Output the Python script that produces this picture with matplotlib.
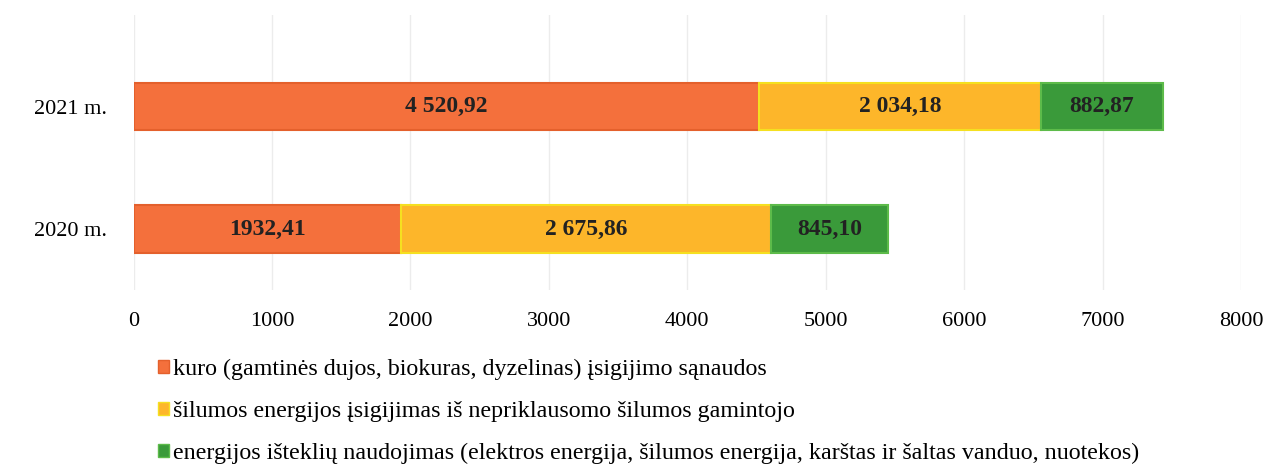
import matplotlib.pyplot as plt
from matplotlib.patches import Patch

plt.rcParams['font.family'] = ['Liberation Serif', 'DejaVu Serif']

# data
years = ['2020 m.', '2021 m.']
kuras = [1932.41, 4520.92]
silumos_pirkimas = [2675.86, 2034.18]
istekliai = [845.10, 882.87]
kuras_lbl = ['1932,41', '4 520,92']
silumos_lbl = ['2 675,86', '2 034,18']
istekliai_lbl = ['845,10', '882,87']
series_names = ['kuro (gamtinės dujos, biokuras, dyzelinas) įsigijimo sąnaudos',
                'šilumos energijos įsigijimas iš nepriklausomo šilumos gamintojo',
                'energijos išteklių naudojimas (elektros energija, šilumos energija, karštas ir šaltas vanduo, nuotekos)']
xticks = [0, 1000, 2000, 3000, 4000, 5000, 6000, 7000, 8000]

colors = ['#F4703C', '#FDB62A', '#3A9A3A']
edges = ['#E4602C', '#F5E020', '#5DBB4A']

fig = plt.figure(figsize=(12.72, 4.75), dpi=100)
# axes spans roughly y=15..290 px
ax = fig.add_axes([0.105, 0.389, 0.8706, 0.579])

ypos = [0, 1]
h = 0.39
left = [0, 0]
for vals, lbls, c, ec in zip([kuras, silumos_pirkimas, istekliai],
                             [kuras_lbl, silumos_lbl, istekliai_lbl], colors, edges):
    bars = ax.barh(ypos, vals, left=left, height=h, color=c, edgecolor=ec,
                   linewidth=1.5, zorder=3)
    ax.bar_label(bars, labels=lbls, label_type='center', fontsize=17,
                 fontweight='bold', color='#222222')
    left = [a + b for a, b in zip(left, vals)]

ax.set_xlim(0, 8000)
ax.set_ylim(-0.5, 1.746)
ax.set_xticks(xticks)
ax.set_xticklabels([str(t) for t in xticks], fontsize=16)
ax.set_yticks(ypos)
ax.set_yticklabels(years, fontsize=16)
ax.tick_params(length=0, pad=16)
ax.tick_params(axis='y', pad=19)
ax.grid(axis='x', color='#ECECEC', linewidth=1, zorder=0)
for s in ax.spines.values():
    s.set_visible(False)

handles = [Patch(facecolor=c, edgecolor=ec) for c, ec in zip(colors, edges)]
fig.legend(handles, series_names, loc='upper left', bbox_to_anchor=(0.117, 0.265),
           frameon=False, fontsize=17.3, handlelength=0.45, handleheight=0.45,
           handletextpad=0.15, labelspacing=0.88, borderaxespad=0)

fig.savefig('out.png', dpi=100)
